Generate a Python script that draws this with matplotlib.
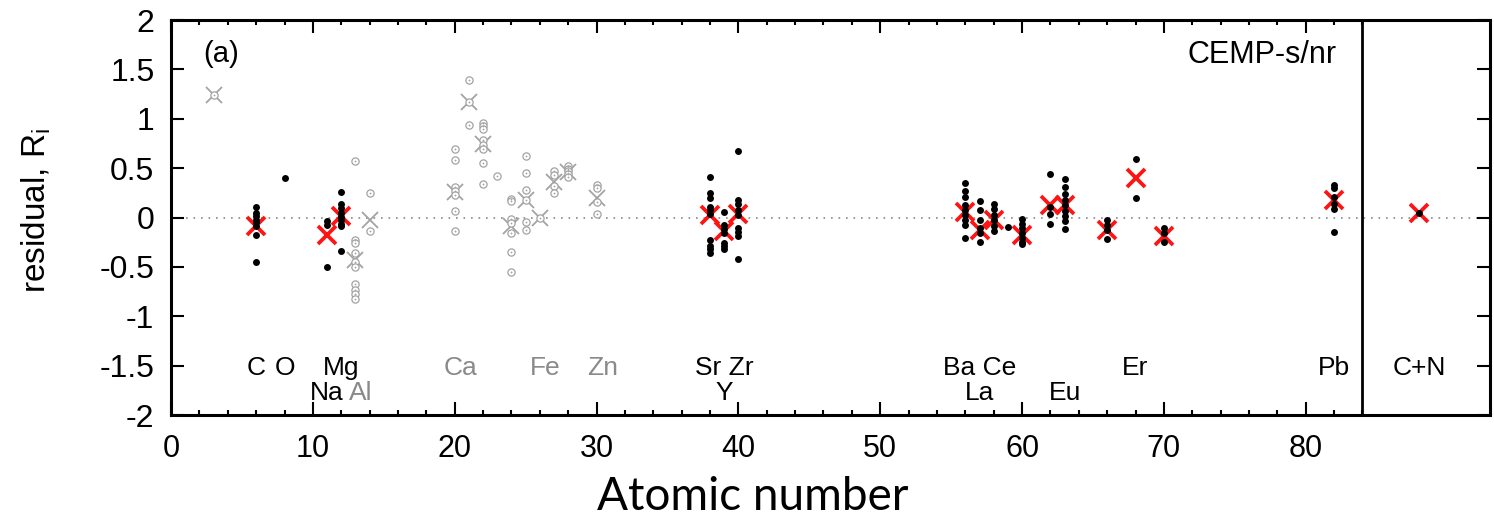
import matplotlib
matplotlib.use('Agg')
import matplotlib.pyplot as plt
import numpy as np

plt.rcParams['font.family'] = ['Liberation Sans', 'DejaVu Sans']
plt.rcParams['axes.unicode_minus'] = False
plt.rcParams['mathtext.fontset'] = 'custom'
plt.rcParams['mathtext.rm'] = 'Liberation Sans'
plt.rcParams['mathtext.it'] = 'Liberation Sans:italic'

# residuals per star, fitted elements (black) with the mean residual (red cross)
fit_z = [6, 8, 11, 12, 38, 39, 40, 56, 57, 58, 59, 60, 62, 63, 66, 68, 70, 82, 88]
fit_res = [
    [0.11, 0.05, 0.015, -0.02, -0.05, -0.09, -0.18, -0.45],          # C
    [0.40],                                                          # O
    [-0.04, -0.08, -0.50],                                           # Na
    [0.26, 0.14, 0.10, 0.05, 0.01, -0.03, -0.07, -0.09, -0.34],      # Mg
    [0.41, 0.245, 0.20, 0.11, 0.08, 0.04, -0.23, -0.29, -0.32, -0.36],  # Sr
    [0.06, -0.08, -0.12, -0.16, -0.255, -0.29, -0.32],               # Y
    [0.67, 0.18, 0.14, 0.08, 0.03, -0.11, -0.15, -0.19, -0.42],      # Zr
    [0.35, 0.27, 0.21, 0.13, 0.08, 0.03, -0.03, -0.08, -0.21],       # Ba
    [0.17, 0.08, -0.03, -0.11, -0.16, -0.245],                       # La
    [0.14, 0.09, 0.03, -0.03, -0.09, -0.14],                         # Ce
    [-0.10],                                                         # Pr
    [-0.015, -0.07, -0.11, -0.16, -0.21, -0.245, -0.27],             # Nd
    [0.44, 0.11, 0.035, -0.07],                                      # Sm
    [0.39, 0.31, 0.235, 0.18, 0.13, 0.07, 0.015, -0.04, -0.12],      # Eu
    [-0.03, -0.08, -0.13, -0.22],                                    # Dy
    [0.59, 0.195],                                                   # Er
    [-0.11, -0.16, -0.245],                                          # Yb
    [0.33, 0.30, 0.21, 0.14, 0.09, -0.15],                           # Pb
    [0.05],                                                          # C+N
]
fit_mean_z = [6, 11, 12, 38, 39, 40, 56, 57, 58, 60, 62, 63, 66, 68, 70, 82, 88]
fit_mean = [-0.085, -0.18, 0.02, 0.03, -0.14, 0.04, 0.06, -0.13, -0.02, -0.18,
            0.13, 0.13, -0.13, 0.40, -0.19, 0.18, 0.05]

# elements left out of the fit (grey)
free_z = [3, 13, 14, 20, 21, 22, 23, 24, 25, 26, 27, 28, 30]
free_res = [
    [1.24],                                                          # Li
    [0.57, -0.23, -0.26, -0.36, -0.45, -0.50, -0.67, -0.73, -0.77, -0.83],  # Al
    [0.245, -0.14],                                                  # Si
    [0.69, 0.58, 0.31, 0.27, 0.23, 0.07, -0.14],                     # Ca
    [1.39, 1.17, 0.94],                                              # Sc
    [0.96, 0.93, 0.90, 0.79, 0.73, 0.69, 0.55, 0.34],                # Ti
    [0.42],                                                          # V
    [0.19, 0.17, -0.01, -0.06, -0.16, -0.35, -0.55],                 # Cr
    [0.62, 0.45, 0.28, 0.18, -0.05, -0.13],                          # Mn
    [0.0],                                                           # Fe
    [0.47, 0.43, 0.32, 0.245],                                       # Co
    [0.52, 0.49, 0.47, 0.44, 0.41],                                  # Ni
    [0.33, 0.30, 0.16, 0.04],                                        # Zn
]
free_mean_z = [3, 13, 14, 20, 21, 22, 24, 25, 26, 27, 28, 30]
free_mean = [1.24, -0.43, -0.02, 0.26, 1.17, 0.74, -0.09, 0.18, 0.0, 0.36, 0.46, 0.20]

# element names along the bottom: (text, Z, row)
label_text = ['C', 'O', 'Mg', 'Na', 'Al', 'Ca', 'Fe', 'Zn', 'Sr Zr', 'Y',
              'Ba Ce', 'La', 'Eu', 'Er', 'Pb', 'C+N']
label_z = [6, 8, 12, 11, 13, 20, 26, 30, 39, 39, 57, 57, 63, 68, 82, 88]
label_row = [0, 0, 0, 1, 1, 0, 0, 0, 0, 1, 0, 1, 1, 0, 0, 0]
label_grey = ['Al', 'Ca', 'Fe', 'Zn']

GREY = '#a3a3a3'
RED = '#ff1414'

fig = plt.figure(figsize=(14.94, 5.18), dpi=100)
ax = fig.add_axes([0.1145, 0.1988, 0.8829, 0.7625])

ax.axhline(0, color='#8a8a8a', lw=1.2, ls=(0, (1, 3.5)), zorder=1)
ax.axvline(84, color='black', lw=2.0, zorder=2)

# grey: crosses first, then the dotted circles
ax.plot(free_mean_z, free_mean, 'x', ms=12, mew=1.3, color=GREY, zorder=3)
for z, vals in zip(free_z, free_res):
    xs = np.full(len(vals), z)
    ax.plot(xs, vals, 'o', ms=5.2, mfc='white', mec=GREY, mew=0.9, zorder=4)
    ax.plot(xs, vals, 'o', ms=1.3, color=GREY, mec='none', zorder=5)

# black: red mean crosses below the dots
ax.plot(fit_mean_z, fit_mean, 'x', ms=12.5, mew=2.7, color=RED, zorder=6)
for z, vals in zip(fit_z, fit_res):
    ax.plot(np.full(len(vals), z), vals, 'o', ms=5.0, color='black', mec='none', zorder=7)

for txt, z, row in zip(label_text, label_z, label_row):
    grey = txt in label_grey
    ax.text(z + (0.4 if grey else 0), -1.595 if row == 0 else -1.85, txt,
            ha='center', va='baseline', fontsize=19,
            color='#8a8a8a' if grey else 'black')

ax.text(2.25, 1.80, '(a)', ha='left', va='top', fontsize=21)
ax.text(82.2, 1.80, 'CEMP-s/nr', ha='right', va='top', fontsize=22)

ax.set_xlim(0, 93)
ax.set_ylim(-2, 2)
ax.set_xticks(np.arange(0, 81, 10))
ax.set_xticks(np.arange(0, 85, 2), minor=True)
ax.set_yticks(np.arange(-2, 2.01, 0.5))
ax.set_yticklabels(['-2', '-1.5', '-1', '-0.5', '0', '0.5', '1', '1.5', '2'])
ax.tick_params(axis='both', which='both', direction='in', top=True, right=True, width=1.5)
ax.tick_params(axis='both', which='major', length=9.5)
ax.tick_params(axis='both', which='minor', length=3.8)
ax.tick_params(axis='x', labelsize=22, pad=14)
ax.tick_params(axis='y', labelsize=23, pad=12)
for s in ax.spines.values():
    s.set_linewidth(2.2)

fig.text(0.024, 0.595, r'residual, R$_\mathrm{i}$', rotation=90, ha='center', va='center', fontsize=24)
fig.text(0.504, 0.0154, 'Atomic number', ha='center', va='baseline', fontsize=33,
         family=['Lato', 'DejaVu Sans'])

fig.savefig('out.png', dpi=100)
